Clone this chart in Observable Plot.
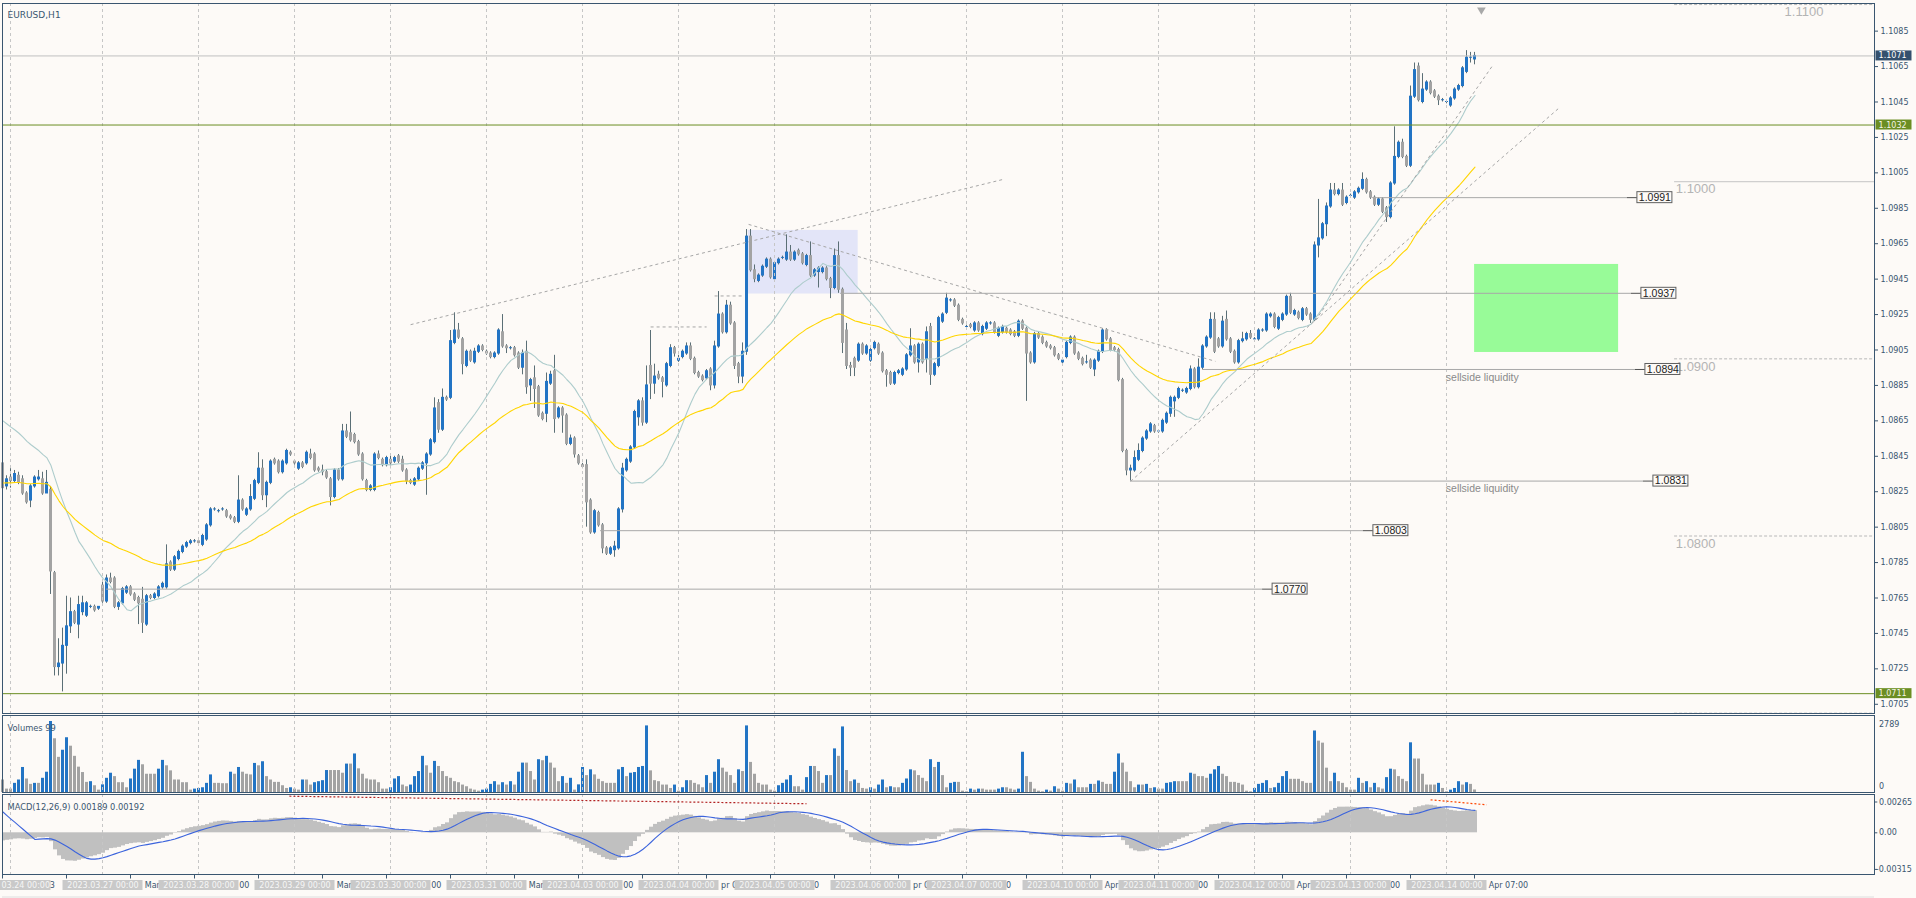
<!DOCTYPE html>
<html>
<head>
<meta charset="utf-8">
<title>EURUSD,H1</title>
<script src="https://cdn.jsdelivr.net/npm/d3@7"></script>
<script src="https://cdn.jsdelivr.net/npm/@observablehq/plot@0.6"></script>
<style>
  html, body { margin: 0; padding: 0; background: #FDFAF7; }
  #chart { position: relative; width: 1916px; height: 898px; overflow: hidden; background: #FDFAF7; }
  #err { position: absolute; left: 20px; top: 20px; color: red; font: 14px sans-serif; }
</style>
</head>
<body>
<div id="chart"></div>
<div id="err"></div>
<script>
// ===================== DATA (prices in pips above 1.0000, e.g. 827 = 1.0827) =====================
const open = [
841,828,833,831,834,832,824,820,828,832, 832,824,826,779,726,728,738,749,757,750,
757,755,760,760,759,772,763,776,776,760, 762,768,771,767,765,764,750,766,765,766,
771,771,785,781,787,791,794,796,797,797, 795,798,806,815,814,815,814,811,810,808,
820,812,815,821,830,838,823,830,843,842, 836,841,847,842,838,841,841,846,846,838,
837,836,832,822,837,832,859,858,857,853, 846,831,826,826,846,843,840,843,842,845,
843,837,831,829,832,838,841,846,853,875, 860,878,878,909,916,911,896,904,898,904,
907,904,903,901,903,915,907,906,906,903, 895,904,885,889,884,869,869,886,893,867,
872,868,852,855,845,840,840,820,802,813, 806,793,790,792,793,815,837,842,850,867,
876,864,896,886,891,889,885,896,906,899, 901,903,907,900,892,890,889,894,885,907,
925,915,930,920,897,890,904,969,950,944, 947,952,956,945,954,957,956,960,956,961,
959,953,958,947,949,949,951,945,940,958, 939,916,896,900,899,908,903,899,906,908,
903,893,892,886,892,891,894,902,907,898, 908,900,918,891,896,921,926,933,933,930,
922,918,919,916,920,914,917,920,920,913, 915,917,916,915,913,921,917,903,898,914,
912,909,907,906,902,898,901,909,912,903, 900,898,899,894,899,904,916,911,906,905,
888,848,837,837,843,848,855,859,862,859, 859,864,869,876,878,882,881,883,894,884,
895,907,912,922,911,907,922,911,904,898, 910,911,914,911,911,916,916,924,925,917,
922,925,935,925,926,922,928,925,922,964, 968,976,986,995,993,995,988,992,991,994,
996,1001,994,991,987,990,985,980,999,1014, 1022,1014,1009,1048,1065,1045,1052,1056,1051,1048,
1046,1045,1043,1047,1052,1054,1062,1070,1069
];
const high = [
843,834,838,837,836,834,825,829,834,837, 836,837,828,780,742,748,766,765,758,766,
766,763,761,761,760,775,778,779,777,763, 771,772,772,768,766,771,767,767,768,772,
774,795,786,789,792,795,797,798,798,797, 801,807,816,816,815,816,815,812,811,834,
821,816,829,832,847,843,831,843,844,843, 843,849,848,843,842,842,848,849,847,839,
840,837,833,838,838,863,863,870,858,854, 847,832,829,847,848,844,845,845,845,846,
845,838,832,833,839,842,847,855,878,877, 883,879,916,926,920,912,905,905,906,908,
908,905,904,904,917,925,908,907,907,904, 905,910,889,896,885,870,892,893,902,873,
873,869,857,856,846,841,843,821,815,814, 807,794,794,797,816,841,844,851,871,877,
878,896,916,897,893,890,898,908,907,902, 905,909,909,901,893,891,894,895,910,938,
926,933,932,921,898,909,973,973,953,948, 953,957,957,955,957,958,970,964,961,962,
960,959,966,951,952,952,952,946,962,966, 940,920,898,901,909,909,908,906,910,909,
904,894,893,893,894,895,903,917,908,909, 909,918,920,898,924,926,937,934,934,931,
923,919,920,921,921,919,921,921,921,918, 919,918,917,916,922,922,918,904,915,915,
913,910,908,907,903,900,910,913,913,904, 901,902,900,900,905,917,917,912,907,906,
889,849,840,848,852,856,860,864,863,860, 866,870,879,879,884,883,884,896,895,900,
908,913,926,926,912,924,927,912,905,911, 915,915,916,912,917,917,926,926,926,924,
926,936,937,928,927,929,929,926,966,990, 977,988,999,999,996,999,992,993,995,997,
1005,1002,995,992,991,991,986,1000,1031,1023, 1024,1015,1054,1067,1067,1061,1057,1057,1052,1049,
1047,1046,1048,1053,1055,1065,1074,1073,1073
];
const low = [
825,826,827,830,829,823,818,816,827,831, 823,824,767,721,721,712,722,745,750,742,
755,754,759,757,758,762,762,773,759,758, 761,767,766,763,750,745,749,764,764,765,
770,770,780,780,786,790,793,795,796,795, 794,797,805,814,813,814,810,809,807,807,
814,811,814,820,829,820,816,829,840,835, 835,840,845,840,837,838,840,843,836,836,
834,832,817,821,831,831,855,853,852,845, 831,825,825,825,843,839,839,838,841,841,
836,829,829,828,831,837,823,845,852,858, 859,876,877,908,911,891,895,898,897,903,
904,902,900,900,902,906,903,905,901,894, 891,880,876,872,867,865,864,885,858,866,
858,851,851,844,840,838,805,801,801,805, 790,789,789,788,792,813,836,841,849,862,
862,863,877,880,888,878,884,895,901,898, 900,902,899,891,889,887,888,882,883,906,
914,914,919,894,886,886,902,949,943,943, 946,951,945,944,953,956,955,955,955,958,
953,952,946,946,940,948,944,934,939,937, 903,894,890,890,898,902,902,898,905,902,
892,884,885,885,891,890,893,901,897,892, 897,892,885,890,895,920,925,932,929,921,
919,917,917,915,915,913,916,919,914,912, 914,914,913,912,912,916,876,897,897,911,
908,906,905,901,899,897,900,908,902,899, 896,897,894,890,898,903,910,904,904,887,
847,834,831,836,842,847,854,858,858,858, 858,863,867,867,877,881,880,882,883,883,
894,906,911,903,906,906,910,903,897,897, 909,910,911,910,910,915,915,923,917,916,
921,924,925,924,922,921,924,920,921,957, 967,969,985,992,992,986,987,991,990,993,
995,993,990,986,986,982,977,979,998,1013, 1013,1008,1008,1047,1045,1044,1051,1049,1047,1043,
1045,1044,1042,1046,1051,1053,1061,1067,1066
];
const close = [
827,832,831,835,830,824,819,828,833,833, 824,830,780,726,728,738,749,757,751,761,
762,762,760,758,760,763,776,774,760,762, 770,771,767,764,762,751,766,765,767,771,
773,784,781,788,791,794,796,797,797,796, 800,806,815,815,814,815,811,810,808,820,
815,815,822,831,838,823,830,842,841,836, 842,848,846,841,841,839,847,844,837,837,
836,833,822,837,832,859,856,854,853,846, 832,826,828,846,844,840,844,841,844,842,
837,831,830,832,838,841,846,854,872,860, 878,877,910,916,912,897,904,899,904,907,
905,903,901,903,916,907,906,906,902,895, 903,884,888,883,868,866,887,891,866,872,
868,852,855,846,841,839,819,802,814,806, 793,790,793,794,815,838,843,850,870,876,
864,885,886,890,889,887,897,906,903,900, 904,907,900,892,890,888,893,885,907,925,
915,930,920,896,890,904,969,950,945,947, 952,956,946,954,956,957,960,956,960,959,
954,958,947,950,951,951,945,940,958,939, 909,896,895,895,908,903,907,905,909,903,
893,891,886,892,893,894,902,907,898,908, 898,915,891,897,923,925,934,933,930,922,
920,918,918,920,916,918,920,920,915,917, 918,915,914,913,921,917,903,898,914,912,
909,907,906,902,900,899,909,912,903,900, 897,898,895,899,904,916,911,905,905,888,
848,837,838,844,848,855,859,863,859,859, 865,869,878,878,883,882,883,894,884,895,
907,912,922,904,907,921,911,904,898,910, 911,914,912,911,916,916,925,925,918,923,
925,935,926,927,923,928,925,922,964,968, 976,986,995,993,995,987,991,992,994,996,
1001,994,991,987,990,983,980,999,1014,1022, 1014,1009,1048,1063,1046,1052,1056,1050,1048,1046,
1046,1045,1047,1052,1054,1064,1070,1070,1071
];
const volume = [
491,133,133,359,491,983,531,319,359,359, 558,797,2789,2111,1381,1660,2151,1819,1421,996,
784,398,425,266,93,300,558,757,624,385, 385,186,531,916,1262,1089,717,717,717,916,
1262,1049,850,491,491,385,385,93,133,159, 186,359,691,359,359,345,345,797,717,983,
797,717,691,1142,1049,1208,624,491,398,398, 266,159,186,133,93,491,491,292,385,425,
465,863,863,863,863,757,1116,1116,1514,930, 717,531,491,491,385,133,133,186,531,624,
292,226,292,624,823,1421,1049,757,1222,1023, 823,624,558,425,385,292,226,133,93,53,
93,133,319,425,292,385,292,425,292,797, 1155,1155,823,491,1288,1248,1421,1155,956,425,
624,359,558,93,300,983,664,890,691,518, 425,359,359,359,890,983,624,757,784,983,
1023,2616,850,465,425,292,292,159,292,53, 186,465,465,359,300,186,664,359,797,1288,
956,797,664,359,890,823,2616,1182,717,359, 292,292,93,53,266,359,491,664,226,226,
93,584,1023,1023,823,359,664,664,1713,1421, 2576,863,425,491,359,159,133,186,133,292,
491,186,226,186,186,359,531,890,850,664, 558,425,1288,983,1182,664,186,359,398,398,
53,27,133,93,133,133,93,93,93,133, 186,186,133,93,133,1580,624,398,133,53,
27,93,53,226,133,53,359,332,491,186, 186,186,319,319,452,398,319,319,797,1514,
1155,797,425,186,292,292,319,159,186,133, 133,359,385,425,425,425,425,757,717,624,
624,558,717,890,1023,717,624,398,398,359, 292,53,27,159,319,359,465,159,186,359,
624,823,518,518,518,425,359,359,2417,2019, 1939,956,425,757,425,359,186,93,93,558,
359,425,186,359,186,133,584,916,890,624, 518,425,1952,1315,1315,717,292,292,292,359,
159,27,93,159,425,292,385,319,99
];

// Trading calendar shown on the time axis
const firstBars = [["2023-03-23", 22], ["2023-03-23", 23]];
const tradingDays = ["2023-03-24","2023-03-27","2023-03-28","2023-03-29","2023-03-30","2023-03-31",
  "2023-04-03","2023-04-04","2023-04-05","2023-04-06","2023-04-07","2023-04-10","2023-04-11",
  "2023-04-12","2023-04-13","2023-04-14"];
const shortDay = "2023-03-24"; // 23 hourly bars that Friday
const monthNames = ["Jan","Feb","Mar","Apr","May","Jun","Jul","Aug","Sep","Oct","Nov","Dec"];

// Axis ticks
const priceTicks = [1.0705,1.0725,1.0745,1.0765,1.0785,1.0805,1.0825,1.0845,1.0865,1.0885,
  1.0905,1.0925,1.0945,1.0965,1.0985,1.1005,1.1025,1.1045,1.1065,1.1085];
const volumeTicks = [2789, 0];
const macdTicks = [0.00265, 0, -0.00315];
const macdTickText = ["0.00265", "0.00", "-0.00315"];

// Indicator settings / starting levels read from the left edge
const maFastPeriod = 20, maSlowPeriod = 50;
const maFastHistory = 1.0867, maSlowSeed = 1.0830;
const ema12Seed = 1.0833, ema26Seed = 1.0840, signalHistory = 0.0021;
const titleText = "EURUSD,H1";
const volumeTitle = "Volumes 99";
const macdTitle = "MACD(12,26,9) 0.00189 0.00192";

// Objects drawn on the chart (bar index, price)
const zones = [
  {i1: 186.3, i2: 213.8, p1: 1.09366, p2: 1.09725, fill: "#E3E5F8"},
  {i1: 367.9, i2: 403.9, p1: 1.09036, p2: 1.09533, fill: "#98FB98"}
];
const trendLines = [
  {i1: 101.9, p1: 1.09193, i2: 250.4, p2: 1.10015},
  {i1: 186.4, p1: 1.09759, i2: 303.1, p2: 1.08986},
  {i1: 281.9, p1: 1.08309, i2: 388.9, p2: 1.10414},
  {i1: 328.1, p1: 1.09217, i2: 372.6, p2: 1.10662},
  {i1: 161.9, p1: 1.09180, i2: 175.9, p2: 1.09180},
  {i1: 177.9, p1: 1.09355, i2: 184.9, p2: 1.09355}
];
const priceLines = [
  {p: 1.0991, start: 342.4, end: 406.1},
  {p: 1.0937, start: 209.4, end: 407.1},
  {p: 1.0894, start: 299.9, end: 408.1},
  {p: 1.0831, start: 281.9, end: 410.1},
  {p: 1.0803, start: 149.4, end: 340.1},
  {p: 1.0770, start: 25.9, end: 314.9}
];
const fullLines = [
  {p: 1.1071, color: "#C0C0C0"},
  {p: 1.1032, color: "#6B8E23"},
  {p: 1.0711, color: "#6B8E23"}
];
const axisTags = [
  {p: 1.1071, fill: "#34506E", text: "#FFFFFF"},
  {p: 1.1032, fill: "#6B8E23", text: "#F4F4E8"},
  {p: 1.0711, fill: "#6B8E23", text: "#F4F4E8"}
];
const roundLevels = [
  {p: 1.1100, label: "1.1100", at: 445.4, dashed: true},
  {p: 1.1000, label: "1.1000", at: 418.2, dashed: false},
  {p: 1.0900, label: "1.0900", at: 418.2, dashed: true},
  {p: 1.0800, label: "1.0800", at: 418.2, dashed: true},
  {p: 1.0700, label: "", at: 418.2, dashed: true}
];
const notes = [
  {i: 360.7, p: 1.08893, text: "sellside liquidity"},
  {i: 360.7, p: 1.08270, text: "sellside liquidity"}
];
const shiftMarker = [{i: 369.6, p: 1.1097}];
const macdTrends = [
  {i1: 71.6, v1: 0.00315, i2: 200.9, v2: 0.00250, color: "#B22222"},
  {i1: 356.9, v1: 0.00284, i2: 370.9, v2: 0.00241, color: "#FF4500"}
];

// ===================== STYLE =====================
const AXIS = "#3A5670", BLUE = "#2274C4", GRAY = "#A3A3A3", WICK = "#5B6F76";
const GRID = "#C6C6C6", BG = "#FDFAF7";
const FONT = "DejaVu Sans";

try {
  const N = close.length;
  if (open.length !== N || high.length !== N || low.length !== N || volume.length !== N)
    throw new Error(`length mismatch o${open.length} h${high.length} l${low.length} c${N} v${volume.length}`);
  const idx = d3.range(N);
  const P = v => 1 + v / 10000;
  const C = close.map(P);

  function smaWithHistory(values, n, historyLevel) {
    return values.map((_, i) => {
      let s = 0;
      for (let k = i - n + 1; k <= i; k++) s += k >= 0 ? values[k] : historyLevel;
      return s / n;
    });
  }
  function emaSeeded(values, n, seed) {
    const a = 2 / (n + 1); let e = seed;
    return values.map(v => (e = e + a * (v - e)));
  }
  const maFast = smaWithHistory(C, maFastPeriod, maFastHistory);
  const maSlow = emaSeeded(C, maSlowPeriod, maSlowSeed);
  const e12 = emaSeeded(C, 12, ema12Seed), e26 = emaSeeded(C, 26, ema26Seed);
  const macd = C.map((_, i) => e12[i] - e26[i]);
  const signal = smaWithHistory(macd, 9, signalHistory);

  // time of every bar
  const times = firstBars.map(([day, h]) => ({day, h}));
  for (const day of tradingDays) {
    const hours = day === shortDay ? 23 : 24;
    for (let h = 0; h < hours && times.length < N; h++) times.push({day, h});
  }
  const daySep = idx.filter(i => times[i].h === 0);
  const tickIdx = idx.filter(i => (N - 1 - i) % 16 === 0);
  const tickLabel = i => {
    const [y, m, d] = times[i].day.split("-");
    if (i === 0) return `${+d} ${monthNames[m - 1]} ${y}`;
    return `${+d} ${monthNames[m - 1]} ${String(times[i].h).padStart(2, "0")}:00`;
  };
  const sepLabel = i => {
    const [y, m, d] = times[i].day.split("-");
    return `${y}.${m}.${d} 00:00`;
  };

  const xDomain = [-0.125, 467.875];
  const xs = Plot.scale({x: {domain: xDomain, range: [2, 1874]}});
  const toIndex = px => xDomain[0] + (px - 2) * (xDomain[1] - xDomain[0]) / 1872;

  // Time-axis labels: the date boxes sit on top of the regular labels, so only
  // the uncovered characters of each regular label are drawn.
  const ctx = document.createElement("canvas").getContext("2d");
  ctx.font = `8px "${FONT}"`;
  const boxHalf = 40;
  const boxes = daySep.map(i => [xs.apply(i) - boxHalf, xs.apply(i) + boxHalf]);
  function visibleRuns(text, startPx, hidden) {
    const runs = []; let cur = null;
    for (let k = 0; k < text.length; k++) {
      const l = startPx + ctx.measureText(text.slice(0, k)).width;
      const r = startPx + ctx.measureText(text.slice(0, k + 1)).width;
      const c = (l + r) / 2;
      const vis = c >= 0 && !hidden.some(([a, b]) => c > a && c < b);
      if (vis) { if (!cur) cur = {s: l, t: ""}; cur.t += text[k]; }
      else if (cur) { runs.push(cur); cur = null; }
    }
    if (cur) runs.push(cur);
    return runs.map(r => {
      const lead = r.t.length - r.t.trimStart().length;
      return {s: Math.max(1, r.s + ctx.measureText(r.t.slice(0, lead)).width), t: r.t.trim()};
    }).filter(r => r.t.length);
  }
  const tickPieces = [];
  for (const i of tickIdx) {
    for (const r of visibleRuns(tickLabel(i), xs.apply(i) + 1, boxes)) tickPieces.push({x: toIndex(r.s), text: r.t});
  }
  const sepPieces = [];
  for (const i of daySep) {
    const t = sepLabel(i);
    const w = ctx.measureText(t).width;
    for (const r of visibleRuns(t, xs.apply(i) - w / 2, [])) sepPieces.push({x: toIndex(r.s), text: r.t});
  }

  const chart = document.getElementById("chart");
  const common = {
    width: 1916, marginLeft: 2, marginRight: 42,
    x: {domain: xDomain, axis: null},
    color: {type: "identity"},
    style: {background: "transparent", fontFamily: FONT, fontSize: "8px", color: AXIS, overflow: "visible"}
  };
  const place = (svg, top) => {
    svg.style.position = "absolute"; svg.style.left = "0px"; svg.style.top = top + "px";
    svg.style.maxWidth = "none";
    chart.appendChild(svg);
  };
  const pxP = 1 / 17720; // price per pixel

  // ---------- main price panel ----------
  const main = Plot.plot({
    ...common, height: 714, marginTop: 3, marginBottom: 1,
    y: {domain: [1.06998, 1.11006], axis: null},
    marks: [
      Plot.rect(zones, {x1: "i1", x2: "i2", y1: "p1", y2: "p2", fill: "fill"}),
      Plot.rect(idx, {x1: i => i - 0.125, x2: i => i + 0.125, y1: i => P(low[i]), y2: i => P(high[i]), fill: WICK}),
      Plot.rect(idx, {x1: i => i - 0.375, x2: i => i + 0.375, y1: i => P(open[i]), y2: i => P(close[i]),
        fill: i => close[i] >= open[i] ? BLUE : GRAY, insetTop: -0.5, insetBottom: -0.5}),
      Plot.ruleX(daySep, {x: i => i - 0.125, stroke: GRID, strokeDasharray: "3,3"}),
      Plot.line(idx, {x: i => i, y: i => maFast[i], stroke: "#ADCCCC", strokeWidth: 1.1}),
      Plot.line(idx, {x: i => i, y: i => maSlow[i], stroke: "#FFD500", strokeWidth: 1.1}),
      Plot.ruleY(fullLines, {y: "p", stroke: "color"}),
      Plot.ruleY(roundLevels.filter(d => !d.dashed), {y: "p", x1: 417.9, x2: 467.875, stroke: "#C4C4C4"}),
      Plot.ruleY(roundLevels.filter(d => d.dashed), {y: "p", x1: 417.9, x2: 467.875, stroke: "#B8B8B8", strokeDasharray: "3,2"}),
      Plot.text(roundLevels.filter(d => d.label), {x: "at", y: d => d.p - 7.5 * pxP, text: "label", textAnchor: "start",
        fill: "#B4B4B4", fontFamily: "Liberation Sans", fontSize: 13}),
      Plot.link(trendLines, {x1: "i1", y1: "p1", x2: "i2", y2: "p2", stroke: "#A6A6A6", strokeDasharray: "3,3"}),
      Plot.ruleY(priceLines, {y: "p", x1: "start", x2: "end", stroke: "#A8A8A8"}),
      Plot.ruleY(priceLines, {y: "p", x1: "end", x2: d => d.end + 2.5, stroke: "#505050"}),
      Plot.rect(priceLines, {x1: d => d.end + 2.5, x2: d => d.end + 11.25, y1: d => d.p - 5.5 * pxP, y2: d => d.p + 5.5 * pxP,
        fill: BG, stroke: "#606060"}),
      Plot.text(priceLines, {x: d => d.end + 6.875, y: "p", text: d => d.p.toFixed(4), fill: "#222222",
        fontFamily: "Liberation Sans", fontSize: 10.5}),
      Plot.text(notes, {x: "i", y: "p", text: "text", textAnchor: "start", fill: "#8A8A8A",
        fontFamily: "Liberation Sans", fontSize: 10.5}),
      Plot.dot(shiftMarker, {x: "i", y: "p", symbol: "triangle", rotate: 180, r: 3.2, fill: "#A8A8A8", stroke: "none"}),
      Plot.frame({stroke: AXIS}),
      Plot.axisY({anchor: "right", ticks: priceTicks, tickFormat: d => d.toFixed(4), tickSize: 3, tickPadding: 3,
        color: AXIS, fontSize: 8, label: null}),
      Plot.rect(axisTags, {x1: 468.25, x2: 477.25, y1: d => d.p - 5 * pxP, y2: d => d.p + 5 * pxP, fill: "fill"}),
      Plot.text(axisTags, {x: 468.9, y: "p", text: d => d.p.toFixed(4), fill: "text", textAnchor: "start", fontSize: 8}),
      Plot.text([titleText], {frameAnchor: "top-left", dx: 5, dy: 8, text: d => d, textAnchor: "start", fill: AXIS, fontSize: 9})
    ]
  });
  place(main, 0);

  // ---------- volume panel ----------
  const vol = Plot.plot({
    ...common, height: 79, marginTop: 1, marginBottom: 1,
    y: {domain: [0, 3025], axis: null},
    marks: [
      Plot.rect(idx, {x1: i => i - 0.375, x2: i => i + 0.375, y1: () => 0, y2: i => volume[i],
        fill: i => i > 0 && volume[i] > volume[i - 1] ? BLUE : GRAY}),
      Plot.ruleX(daySep, {x: i => i - 0.125, stroke: GRID, strokeDasharray: "3,3"}),
      Plot.frame({stroke: AXIS}),
      Plot.text([volumeTitle], {frameAnchor: "top-left", dx: 5, dy: 10, text: d => d, textAnchor: "start", fill: AXIS, fontSize: 8.3}),
      Plot.text(volumeTicks.slice(0, 1), {x: () => 469, y: d => d, dy: 2.5, text: d => String(d), textAnchor: "start", fill: AXIS, fontSize: 8}),
      Plot.text(volumeTicks.slice(1), {x: () => 469, y: d => d, dy: -6.5, text: d => String(d), textAnchor: "start", fill: AXIS, fontSize: 8})
    ]
  });
  place(vol, 714);

  // ---------- MACD panel ----------
  const mac = Plot.plot({
    ...common, height: 82, marginTop: 1, marginBottom: 1,
    y: {domain: [-0.003589, 0.003296], axis: null},
    marks: [
      Plot.rect(idx, {x1: i => i - 0.375, x2: i => i + 0.625, y1: () => 0, y2: i => macd[i], fill: "#C0C0C0", clip: true}),
      Plot.ruleX(daySep, {x: i => i - 0.125, stroke: GRID, strokeDasharray: "3,3"}),
      Plot.line(idx, {x: i => i, y: i => signal[i], stroke: "#3C64DC", strokeWidth: 1.1, clip: true}),
      Plot.link(macdTrends, {x1: "i1", y1: "v1", x2: "i2", y2: "v2", stroke: "color", strokeDasharray: "2,2", strokeWidth: 1.2}),
      Plot.frame({stroke: AXIS}),
      Plot.ruleY(macdTicks, {y: d => d, x1: () => 467.875, x2: () => 468.7, stroke: AXIS}),
      Plot.text(macdTicks, {x: d => (d < 0 ? 468.2 : 469), y: d => d, text: (d, k) => macdTickText[k], textAnchor: "start", fill: AXIS, fontSize: 8}),
      Plot.text([macdTitle], {frameAnchor: "top-left", dx: 5, dy: 9.5, text: d => d, textAnchor: "start", fill: AXIS, fontSize: 8.3})
    ]
  });
  place(mac, 793);

  // ---------- time axis ----------
  const tax = Plot.plot({
    ...common, height: 24, marginTop: 0, marginBottom: 0,
    y: {domain: [0, 24], range: [0, 24], axis: null},
    marks: [
      Plot.ruleX(tickIdx, {x: i => i - 0.125, y1: () => 1, y2: () => 4.5, stroke: AXIS}),
      Plot.text(tickPieces, {x: "x", y: () => 11, text: "text", textAnchor: "start", fill: AXIS, fontSize: 8}),
      Plot.rect(daySep, {x1: i => i - 10, x2: i => i + 10, y1: () => 6, y2: () => 16, fill: "#C9C9C9"}),
      Plot.text(sepPieces, {x: "x", y: () => 11, text: "text", textAnchor: "start", fill: "#F6F6F6", fontSize: 8}),
      Plot.ruleY([22.5], {y: d => d, stroke: "#DEDEDE"})
    ]
  });
  place(tax, 874);
} catch (e) {
  document.getElementById("err").textContent = "Error: " + e.message;
}
</script>
</body>
</html>
